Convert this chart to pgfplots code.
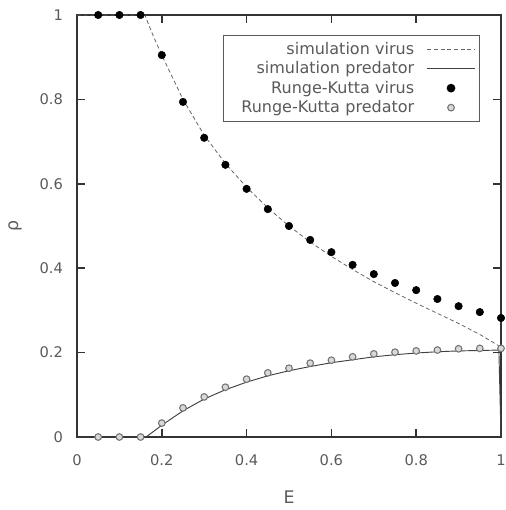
\documentclass[border=0pt]{standalone}
\usepackage{fontspec}
\setmainfont{DejaVu Sans}
\usepackage{pgfplots}
\pgfplotsset{compat=1.18}
\definecolor{txt}{HTML}{5A5A5A}
\definecolor{axc}{HTML}{333333}
\pgfplotsset{
  lineleg/.style={legend image code/.code={\draw[##1] (0cm,0cm) -- (1.25cm,0cm);}},
  markleg/.style={legend image code/.code={\draw[mark repeat=2,mark phase=2,##1] plot coordinates {(0cm,0cm) (0.625cm,0cm) (1.25cm,0cm)};}},
}
\begin{document}
\begin{tikzpicture}
\useasboundingbox (0,0) rectangle (379.5pt,382.5pt);
\begin{axis}[
  at={(57.75pt,54.75pt)}, anchor=south west,
  scale only axis, width=318pt, height=316.5pt,
  xmin=0, xmax=1, ymin=0, ymax=1,
  clip=false,
  xtick={0,0.2,0.4,0.6,0.8,1},
  ytick={0,0.2,0.4,0.6,0.8,1},
  tick align=inside,
  major tick length=6pt,
  tick style={axc, line width=1.1pt},
  axis line style={axc, line width=1.3pt},
  /pgf/number format/assume math mode=true,
  ticklabel style={font=\fontsize{11}{13}\selectfont, text=txt},
  xticklabel style={yshift=-10pt},
  yticklabel style={xshift=-7pt},
  xlabel={E},
  ylabel={ρ},
  label style={font=\fontsize{13}{15}\selectfont, text=txt},
  xlabel style={at={(axis description cs:0.5,-0.142)}, anchor=center},
  ylabel style={at={(axis description cs:-0.146,0.5)}, anchor=center},
  legend cell align=right,
  legend plot pos=right,
  legend style={at={(0.950,0.953)}, anchor=north east,
    draw=txt, line width=0.9pt, font=\fontsize{12}{14}\selectfont, text=txt,
    row sep=0pt, inner sep=3pt,
    /tikz/every odd column/.append style={column sep=7.5pt, text width=138pt, align=right}},
]
\addplot[gray!80!black, line width=0.6pt, densely dashed, lineleg]
coordinates {
(0,1) (0.16,1) (0.18,0.95) (0.2,0.905) (0.25,0.80) (0.3,0.715) (0.35,0.648)
(0.4,0.592) (0.45,0.543) (0.5,0.500) (0.55,0.462) (0.6,0.428) (0.65,0.397)
(0.7,0.368) (0.75,0.342) (0.8,0.317) (0.85,0.293) (0.9,0.269) (0.95,0.243) (1.0,0.213)
};
\addlegendentry{simulation virus}
\addplot[black!75, line width=0.7pt, lineleg]
coordinates {
(0,0) (0.163,0) (0.2,0.028) (0.25,0.062) (0.3,0.09) (0.35,0.112) (0.4,0.13)
(0.45,0.145) (0.5,0.157) (0.55,0.167) (0.6,0.176) (0.65,0.183) (0.7,0.19)
(0.75,0.195) (0.8,0.199) (0.85,0.202) (0.9,0.204) (0.95,0.205) (0.995,0.206) (1.0,0)
};
\addlegendentry{simulation predator}
\addplot[only marks, mark=*, mark size=2.8pt, black, mark options={fill=black}, markleg]
coordinates {
(0.05,1) (0.1,1) (0.15,1) (0.2,0.905) (0.25,0.794) (0.3,0.709) (0.35,0.645)
(0.4,0.588) (0.45,0.540) (0.5,0.500) (0.55,0.467) (0.6,0.438) (0.65,0.408)
(0.7,0.386) (0.75,0.365) (0.8,0.348) (0.85,0.327) (0.9,0.310) (0.95,0.296) (1.0,0.282)
};
\addlegendentry{Runge-Kutta virus}
\addplot[only marks, mark=*, mark size=2.5pt, gray, mark options={draw=gray!90!black, fill=gray!30, line width=0.8pt}, markleg]
coordinates {
(0.05,0) (0.1,0) (0.15,0) (0.2,0.033) (0.25,0.069) (0.3,0.095) (0.35,0.118)
(0.4,0.137) (0.45,0.152) (0.5,0.163) (0.55,0.175) (0.6,0.182) (0.65,0.190)
(0.7,0.197) (0.75,0.201) (0.8,0.204) (0.85,0.206) (0.9,0.209) (0.95,0.210) (1.0,0.210)
};
\addlegendentry{Runge-Kutta predator}
\end{axis}
\end{tikzpicture}
\end{document}
